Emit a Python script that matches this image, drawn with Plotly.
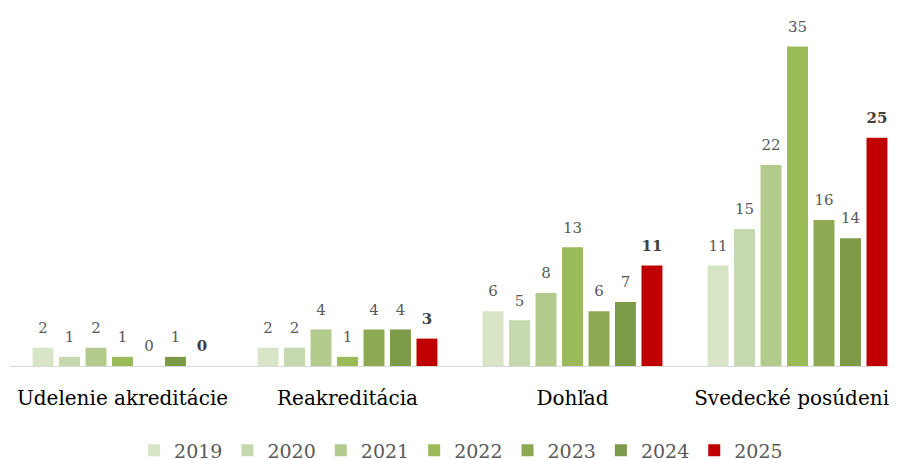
import plotly.graph_objects as go

categories = ["Udelenie akreditácie", "Reakreditácia", "Dohľad", "Svedecké posúdenie"]
years = ["2019", "2020", "2021", "2022", "2023", "2024", "2025"]
v2019 = [2, 2, 6, 11]
v2020 = [1, 2, 5, 15]
v2021 = [2, 4, 8, 22]
v2022 = [1, 1, 13, 35]
v2023 = [0, 4, 6, 16]
v2024 = [1, 4, 7, 14]
v2025 = [0, 3, 11, 25]
series = [v2019, v2020, v2021, v2022, v2023, v2024, v2025]
colors = ["#D8E4C6", "#C6D8AE", "#B2CA8C", "#9BBB59", "#8DAA52", "#7C9A48", "#C00000"]

fig = go.Figure()
for i, (yr, vals, col) in enumerate(zip(years, series, colors)):
    fig.add_trace(go.Bar(
        name=yr, x=categories, y=vals,
        marker=dict(color=col, line=dict(width=0)),
        offsetgroup=yr,
    ))
for i, (yr, vals) in enumerate(zip(years, series)):
    last = i == len(years) - 1
    fig.add_trace(go.Scatter(
        x=categories, y=vals, mode="markers+text",
        marker=dict(size=16, opacity=0, color="white"),
        text=[f"<b>{v}</b>" if last else str(v) for v in vals],
        textposition="top center",
        textfont=dict(family="DejaVu Serif", size=15, color="#404040" if last else "#595959"),
        offsetgroup=yr,
        showlegend=False, hoverinfo="skip", cliponaxis=False,
    ))

fig.update_layout(
    width=897, height=470,
    margin=dict(l=2, r=0, t=11, b=112),
    barmode="group", bargap=0.176, bargroupgap=0.21,
    scattermode="group", scattergap=0.176,
    plot_bgcolor="white", paper_bgcolor="white",
    showlegend=True,
    legend=dict(orientation="h", x=0.504, xanchor="center", y=-0.243, yanchor="middle",
                font=dict(family="DejaVu Serif", size=19, color="#595959"),
                itemwidth=30, traceorder="normal"),
    xaxis=dict(range=[-0.5, -0.5 + 895 / 225], showline=True, linecolor="#D9D9D9", linewidth=1,
               ticks="", tickfont=dict(family="DejaVu Serif", size=20, color="#000000"),
               ticklabelstandoff=14,
               showgrid=False, automargin=False),
    yaxis=dict(range=[0, 38], visible=False, showgrid=False, automargin=False),
)
fig.write_html("out.html")
